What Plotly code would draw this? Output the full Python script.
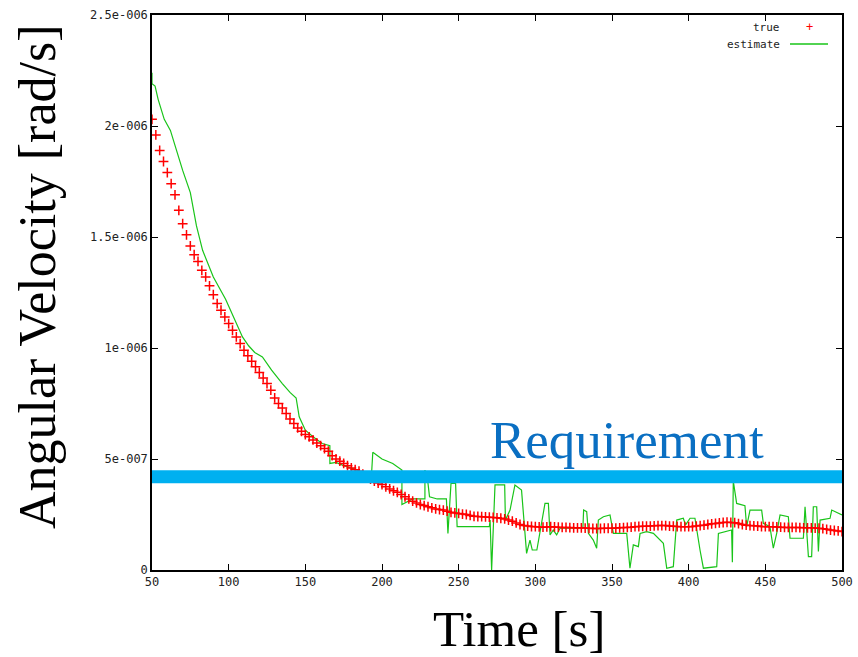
import plotly.graph_objects as go

# ---- data (values in 1e-7 rad/s) ----
true_t = [50 + 2.5 * i for i in range(181)]
true_v = [20.3, 19.6, 18.9, 18.4, 17.9, 17.4, 16.9, 16.2, 15.6, 15.1,
          14.6, 14.2, 13.9, 13.5, 13.2, 12.8, 12.4, 12.0, 11.7, 11.4,
          11.1, 10.8, 10.5, 10.2, 9.9, 9.65, 9.4, 9.15, 8.9, 8.65,
          8.4, 8.1, 7.75, 7.5, 7.3, 7.05, 6.8, 6.6, 6.4, 6.25,
          6.1, 6.0, 5.86, 5.72, 5.6, 5.47, 5.35, 5.15, 5.0, 4.9,
          4.8, 4.7, 4.6, 4.52, 4.45, 4.32, 4.2, 4.1, 4.0, 3.92,
          3.85, 3.75, 3.65, 3.57, 3.5, 3.4, 3.3, 3.2, 3.1, 3.02,
          2.95, 2.9, 2.85, 2.8, 2.75, 2.72, 2.7, 2.65, 2.6, 2.57,
          2.55, 2.52, 2.5, 2.46, 2.42, 2.41, 2.4, 2.39, 2.38, 2.37,
          2.35, 2.33, 2.3, 2.25, 2.2, 2.12, 2.05, 2.0, 1.98, 1.96,
          1.95, 1.94, 1.93, 1.94, 1.95, 1.94, 1.93, 1.92, 1.92, 1.91,
          1.9, 1.9, 1.9, 1.89, 1.88, 1.87, 1.87, 1.87, 1.88, 1.88,
          1.88, 1.89, 1.9, 1.91, 1.92, 1.93, 1.95, 1.96, 1.97, 1.97,
          1.98, 1.99, 2.0, 2.0, 2.0, 1.98, 1.97, 1.96, 1.95, 1.95,
          1.95, 1.96, 1.98, 2.0, 2.02, 2.05, 2.08, 2.1, 2.12, 2.14,
          2.15, 2.14, 2.13, 2.09, 2.05, 2.02, 2.0, 1.99, 1.98, 1.96,
          1.95, 1.95, 1.95, 1.94, 1.93, 1.92, 1.92, 1.92, 1.92, 1.91,
          1.9, 1.9, 1.9, 1.89, 1.88, 1.86, 1.83, 1.8, 1.78, 1.76,
          1.73]

est_t = [50, 50, 52, 54, 58, 62, 66, 70, 75, 79, 83, 90, 98, 104, 109, 113, 117, 122,
         128, 135, 140, 144, 146, 150, 155, 161, 166, 166, 170, 175, 184, 190, 193,
         194, 200, 207, 213, 213, 220, 228, 228, 230, 231, 236, 242, 243, 245, 248,
         249, 270, 270.5, 271.5, 273.7, 280, 280.5, 283.5, 286.7, 291, 294.3, 296.5,
         298, 301, 306.3, 308.5, 309.6, 311.7, 313.9, 316.1, 331, 331.5, 333.5, 334.6,
         337.8, 340, 341.1, 344.4, 348.7, 350.9, 359.6, 361.7, 363.9, 367.2, 368.3,
         372.6, 377, 383.5, 385.7, 390, 392.2, 396.5, 398, 400.9, 404.1, 407.4, 409.6,
         418.3, 419.4, 428, 428.5, 429.1, 431.3, 436.7, 437.8, 440, 447.6, 448.7, 453,
         455.2, 457.4, 459.6, 465, 466.1, 474.8, 475.9, 478.1, 480.2, 481.3, 483.5,
         484.6, 485.7, 492.2, 493.3, 500]
est_v = [22.4, 21.9, 21.8, 21.2, 20.3, 19.8, 18.9, 18.0, 17.0, 15.5, 14.4, 13.2, 12.2,
         11.3, 10.5, 10.1, 9.8, 9.6, 9.0, 8.4, 8.0, 7.75, 6.9, 6.3, 6.0, 5.7, 5.6, 4.8,
         4.85, 4.7, 4.5, 4.2, 4.1, 5.3, 5.0, 4.8, 4.5, 2.95, 3.2, 3.2, 4.5, 3.9, 3.3,
         3.2, 3.2, 1.65, 3.9, 3.9, 1.95, 1.95, 2.25, 0.0, 3.83, 3.83, 2.25, 2.7, 3.83,
         3.6, 0.75, 1.35, 0.9, 0.9, 3.0, 3.0, 1.58, 1.8, 1.58, 1.88, 1.88, 2.7, 2.63,
         1.65, 1.35, 0.98, 2.25, 2.4, 2.48, 1.65, 1.65, 0.08, 1.13, 1.05, 1.65, 1.73,
         1.65, 1.2, 0.08, 0.15, 2.25, 2.33, 2.03, 2.33, 2.33, 0.9, 0.08, 0.15, 1.65,
         1.8, 0.35, 4.0, 3.0, 2.9, 1.95, 2.7, 2.7, 2.1, 1.95, 0.98, 1.65, 2.48, 2.4,
         1.43, 1.43, 2.85, 0.6, 0.6, 2.85, 2.85, 0.83, 2.25, 2.33, 2.7, 2.48]

req_t = [50, 500]
req_v = [4.2, 4.2]

x_ticks = [50, 100, 150, 200, 250, 300, 350, 400, 450, 500]
y_ticks = [0, 5e-7, 1e-6, 1.5e-6, 2e-6, 2.5e-6]
y_tick_text = ["0", "5e-007", "1e-006", "1.5e-006", "2e-006", "2.5e-006"]

S = 1e-7

fig = go.Figure()
fig.add_trace(go.Scatter(
    x=est_t, y=[v * S for v in est_v], mode="lines",
    line=dict(color="#19c419", width=1.2), name="estimate", showlegend=False))
fig.add_trace(go.Scatter(
    x=true_t, y=[v * S for v in true_v], mode="markers",
    marker=dict(symbol="cross-thin", size=7, line=dict(color="#ff0000", width=1.5)),
    name="true", showlegend=False))
fig.add_trace(go.Scatter(
    x=req_t, y=[v * S for v in req_v], mode="lines",
    line=dict(color="#00b0f0", width=13), showlegend=False, hoverinfo="skip"))

W, H = 858, 657
L, R, T, B = 152, 16, 15, 87
pw, ph = W - L - R, H - T - B

def px(x):
    return (x - L) / pw

def py(y):
    return (H - B - y) / ph

tick_font = dict(family="DejaVu Sans Mono", size=12, color="#222")
serif = "Liberation Serif"

fig.update_layout(
    width=W, height=H, autosize=False,
    margin=dict(l=L, r=R, t=T, b=B, pad=0, autoexpand=False),
    paper_bgcolor="white", plot_bgcolor="white",
    hovermode=False,
    xaxis=dict(range=[50, 500], tickvals=x_ticks, ticks="inside", ticklen=6,
               automargin=False,
               showline=True, linecolor="black", linewidth=1.5, mirror="ticks",
               showgrid=False, zeroline=False, tickfont=tick_font, tickcolor="black"),
    yaxis=dict(range=[0, 2.5e-6], tickvals=y_ticks, ticktext=y_tick_text,
               ticks="inside", ticklen=6, automargin=False,
               showline=True, linecolor="black", linewidth=1.5, mirror="ticks",
               showgrid=False, zeroline=False, tickfont=tick_font, tickcolor="black"),
    annotations=[
        dict(text="Angular Velocity [rad/s]", xref="paper", yref="paper",
             x=px(37), y=py(277), textangle=-90, showarrow=False,
             xanchor="center", yanchor="middle",
             font=dict(family=serif, size=52, color="black")),
        dict(text="Time [s]", xref="paper", yref="paper",
             x=px(519), y=py(629), showarrow=False,
             xanchor="center", yanchor="middle",
             font=dict(family=serif, size=51, color="black")),
        dict(text="Requirement", xref="paper", yref="paper",
             x=px(627), y=py(440), showarrow=False,
             xanchor="center", yanchor="middle",
             font=dict(family=serif, size=53, color="#0a6fc2")),
        dict(text="true", xref="paper", yref="paper",
             x=px(782), y=py(28), showarrow=False,
             xanchor="right", yanchor="middle",
             font=dict(family="DejaVu Sans Mono", size=11, color="#222")),
        dict(text="estimate", xref="paper", yref="paper",
             x=px(782), y=py(44), showarrow=False,
             xanchor="right", yanchor="middle",
             font=dict(family="DejaVu Sans Mono", size=11, color="#222")),
        dict(text="+", xref="paper", yref="paper",
             x=px(809), y=py(27), showarrow=False,
             xanchor="center", yanchor="middle",
             font=dict(family="DejaVu Sans Mono", size=12, color="#ff0000")),
    ],
    shapes=[
        dict(type="line", xref="paper", yref="paper",
             x0=px(790), x1=px(828), y0=py(44), y1=py(44),
             line=dict(color="#19c419", width=1.5)),
    ],
)

fig.write_html("out.html",
               config={"displayModeBar": False, "responsive": False},
               post_script="document.body.style.margin='0px';"
                           "document.body.style.overflow='hidden';")
